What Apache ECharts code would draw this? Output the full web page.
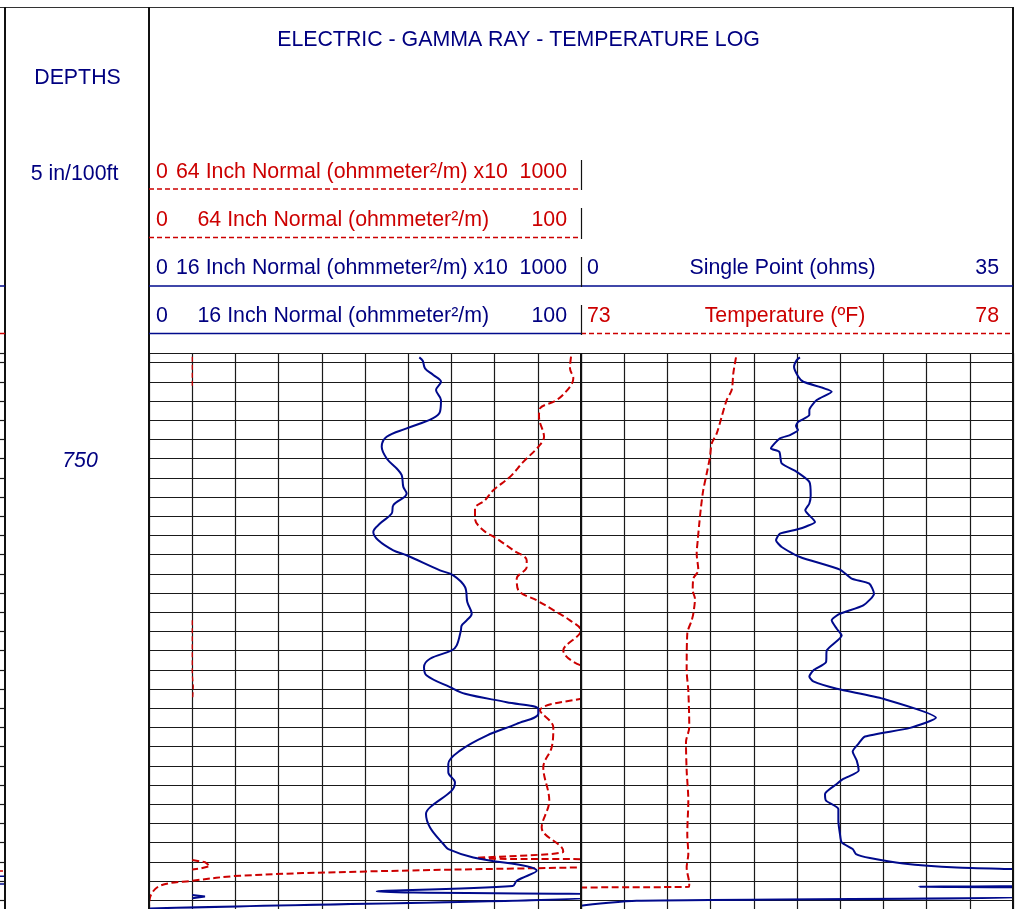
<!DOCTYPE html>
<html><head><meta charset="utf-8">
<script src="https://cdn.jsdelivr.net/npm/echarts@6/dist/echarts.min.js"></script>
<style>html,body{margin:0;padding:0;background:#fff}#chart{width:1018px;height:909px}</style>
</head><body><div id="chart"></div>
<script>
// ---------- depth scale (ft) ----------
const depthMin = 728, depthMax = 843.83;
const depthGridLines = [728,730,734,738,742,746,750,754,758,762,766,770,774,778,782,786,790,794,798,802,806,810,814,818,822,826,830,834,838,842];
const depthLabels = [{depth: 750, text: '750'}];

// ---------- 16 Inch Normal (ohm-m), scale 0-100 ----------
const n16Depth = [728.90,729.61,731.19,732.59,733.99,735.72,737.81,740.25,741.62,743.71,745.46,747.55,749.97,752.06,753.45,755.89,757.27,759.71,761.44,763.53,765.28,767.01,769.10,770.14,773.27,774.31,776.76,779.89,782.31,783.70,784.75,785.79,788.92,789.96,791.70,793.45,795.18,797.62,799.00,800.75,802.13,803.17,805.26,807.70,810.83,813.60,815.35,817.44,819.17,822.66,824.03,826.83,830.29,831.34,833.09,835.86,837.95,839.05,840.18,840.83,841.18,843.73,844.1];
const n16Value = [62.57,63.36,63.89,65.81,67.59,66.44,67.59,67.36,65.67,59.65,55.02,53.87,55.02,57.34,58.50,58.87,59.65,56.55,56.18,53.47,51.92,53.08,56.55,59.65,67.36,70.44,73.15,73.68,74.70,73.54,72.38,72.2,71.23,70.07,65.05,63.66,64.28,69.68,73.15,82.80,90.12,90.12,85.12,78.17,71.99,69.28,69.28,70.83,70.07,65.05,64.12,65.05,68.13,69.28,75.07,89.75,85.12,84.19,52.71,105,105,0.23,-0.5];

// ---------- 64 Inch Normal (ohm-m), scale 0-100 ----------
const n64Depth = [728.77,731.19,733.28,735.03,737.81,739.54,741.29,745.46,747.55,750.68,753.81,756.58,758.67,760.40,762.49,764.93,766.66,769.10,771.19,772.58,775.00,777.44,779.53,781.97,783.70,785.79,789.96,793.09,794.55,798.72,800.04,802.48,805.96,810.13,814.31,821.25,826.83,831.00,831.90,833.21,833.71,835.09,835.17,836.01,836.90,837.95,838.99,841.43,844];
const n64Value = [97.69,97.45,98.22,97.45,94.38,90.51,90.28,91.44,90.12,86.64,83.56,79.70,77.78,75.46,75.46,77.38,80.49,84.33,87.43,87.43,85.12,85.49,89.75,94.38,97.45,100.0,95.90,100,110,110,100,90.51,93.59,93.22,91.27,92.66,90.90,95.53,95.90,75.86,110,110,100,50.39,21.06,10.02,2.55,0.23,0];

// ---------- x10 backup traces (scale 0-1000), visible pieces ----------
const n64x10DepthA = [728.77,735.10];
const n64x10ValueA = [100.2,100.2];
const n64x10DepthB = [783.70,795.00,797.50,800.20];
const n64x10ValueB = [100.2,100.2,102.5,101.0];
const n64x10DepthC = [833.63,834.10,834.90,835.40,835.59];
const n64x10ValueC = [100.2,130,141.2,118,100.2];
const n16x10Depth = [840.90,841.25,841.60];
const n16x10Value = [100.2,129.6,100.2];

// ---------- Single Point (ohms), scale 0-35 ----------
const spDepth = [728.90,729.46,730.86,732.94,733.99,736.07,737.81,739.89,740.94,742.33,743.23,744.06,745.11,745.80,747.88,748.59,751.01,752.76,754.85,757.62,759.36,760.76,763.20,764.09,764.78,765.62,767.01,768.41,770.50,773.13,775.00,776.05,778.13,780.58,782.31,783.70,785.44,786.83,789.96,792.40,794.13,795.38,796.42,797.95,800.04,804.00,806.09,807.90,809.43,811.03,812.91,815.00,816.73,817.77,819.86,821.25,822.99,825.43,828.20,829.96,831.34,832.38,833.22,834.34,835.17,835.51,835.66,838.64,839.20,839.47,841.22,842.12,843.17,844];
const spValue = [17.74,17.48,17.26,17.61,18.01,20.31,19.10,18.50,18.50,17.61,17.42,17.58,16.93,16.12,15.39,16.07,16.26,17.48,18.50,18.61,18.50,18.17,18.96,18.29,17.48,16.12,15.80,16.26,17.74,20.98,21.93,23.36,23.74,22.87,20.98,20.31,20.72,21.12,19.91,19.85,18.82,18.50,18.82,20.72,24.49,28.76,26.66,23.01,22.47,22.01,22.34,22.50,21.25,20.72,19.77,19.85,20.85,20.85,20.98,21.12,22.01,22.28,23.41,26.11,30.44,35.03,37,37,27.38,37,37,4.51,0,-1];

// ---------- Temperature (F), scale 73-78 ----------
const tempDepth = [728.90,732.23,735.72,737.81,741.29,744.75,746.84,749.64,753.10,756.58,760.07,763.53,767.01,769.79,773.27,775.00,777.44,779.18,782.31,783.70,786.48,794.13,798.31,805.96,809.09,815.00,821.25,828.20,832.38,835.17,838.64,839.20,839.35];
const tempValue = [74.794,74.763,74.744,74.686,74.628,74.571,74.513,74.493,74.455,74.415,74.389,74.369,74.351,74.339,74.358,74.300,74.293,74.319,74.300,74.281,74.230,74.223,74.242,74.253,74.215,74.223,74.242,74.230,74.242,74.223,74.253,74.25,72.0];

// ---------- neighbouring track fragment (left edge) ----------
const edgeRedDepth = [835.9, 835.9];
const edgeBlueDepth = [837.0, 837.0];
const edgeBlue2Depth = [838.6, 838.6];
const edgeValue = [0, 1];

// ---------- scales / header texts ----------
const track1Scale = [0, 100];
const track1Scale10 = [0, 1000];
const spScale = [0, 35];
const tempScale = [73, 78];
const title = 'ELECTRIC - GAMMA RAY - TEMPERATURE LOG';
const headerRows = [
  {color: 'red',  left: '0', name: '64 Inch Normal (ohmmeter²/m) x10', right: '1000', indent: false},
  {color: 'red',  left: '0', name: '64 Inch Normal (ohmmeter²/m)', right: '100', indent: true},
  {color: 'blue', left: '0', name: '16 Inch Normal (ohmmeter²/m) x10', right: '1000', indent: false},
  {color: 'blue', left: '0', name: '16 Inch Normal (ohmmeter²/m)', right: '100', indent: true}
];
const track2Header = [
  {color: 'blue', left: '0', name: 'Single Point (ohms)', right: '35'},
  {color: 'red', left: '73', name: 'Temperature (ºF)', right: '78'}
];

// ---------- styling ----------
const BLUE = '#000a8c', RED = '#cc0000', INK = '#000080';
const FONT = 'Liberation Sans, Arial, Helvetica, sans-serif';
const FS = 21.33;
const pairs = (v, d) => v.map((x, i) => [x, d[i]]);

const chart = echarts.init(document.getElementById('chart'), null, {renderer: 'canvas'});

const yBase = {
  type: 'value', inverse: true, min: depthMin, max: depthMax,
  axisLine: {show: false}, axisLabel: {show: false},
  axisTick: {show: false, customValues: depthGridLines},
  splitLine: {show: true, lineStyle: {color: '#1a1a1a', width: 1.2}}
};
const xShown = (grid, range, interval) => ({
  type: 'value', gridIndex: grid, min: range[0], max: range[1], interval: interval,
  axisLine: {show: false}, axisTick: {show: false}, axisLabel: {show: false},
  splitLine: {show: true, lineStyle: {color: '#1a1a1a', width: 1.2}}
});
const xHidden = (grid, range) => ({type: 'value', gridIndex: grid, min: range[0], max: range[1], show: false});

const lineSeries = (name, xi, yi, data, color, width, dash, smooth) => ({
  name, type: 'line', xAxisIndex: xi, yAxisIndex: yi, data,
  showSymbol: false, symbol: 'none', animation: false, clip: true, z: 5,
  smooth: smooth || false,
  lineStyle: {color, width, type: dash ? dash : 'solid'}
});

// ---------- graphic frame & header ----------
const g = [];
const L = (x1, y1, x2, y2, stroke, w, dash) => g.push({type: 'line', silent: true, z: 100,
  shape: {x1, y1, x2, y2}, style: {stroke, lineWidth: w, lineDash: dash || null}});
const T = (x, y, text, fill, align, font) => g.push({type: 'text', silent: true, z: 100, x, y,
  style: {text, fill, font: font || (FS + 'px ' + FONT), align, verticalAlign: 'middle', textAlign: align, textVerticalAlign: 'middle'}});

// outer frame
L(0, 7.5, 1014, 7.5, '#333', 1);
L(5, 7, 5, 909, '#111', 2);
L(149, 7, 149, 909, '#111', 2);
L(1013, 7, 1013, 909, '#111', 2);
L(581, 353, 581, 909, '#111', 2);
// header separator lines
const DASH = [5, 3];
L(149, 189, 581, 189, RED, 1.5, DASH);
L(149, 237.5, 581, 237.5, RED, 1.5, DASH);
L(149, 286, 1013, 286, BLUE, 1.5);
L(149, 333.5, 581, 333.5, BLUE, 1.5);
L(581, 333.5, 1013, 333.5, RED, 1.5, DASH);
L(0, 286, 5, 286, BLUE, 1.5);
L(0, 333.5, 5, 333.5, RED, 1.5, DASH);
// header row ticks
[[160, 190], [208, 239], [257, 287], [305, 335]].forEach(r => L(581.5, r[0], 581.5, r[1], '#111', 1.2));
// texts
const DY = 1.5;
T(518.5, 39 + DY, title, INK, 'center');
T(77.5, 77 + DY, 'DEPTHS', INK, 'center');
T(74.5, 173 + DY, '5 in/100ft', INK, 'center');
const rowY = [171, 219, 267, 315];
headerRows.forEach((r, i) => {
  const c = r.color === 'red' ? RED : INK;
  T(156, rowY[i] + DY, r.left, c, 'left');
  T(r.indent ? 197.5 : 176, rowY[i] + DY, r.name, c, 'left');
  T(567, rowY[i] + DY, r.right, c, 'right');
});
track2Header.forEach((r, i) => {
  const c = r.color === 'red' ? RED : INK;
  const y = rowY[2 + i] + DY;
  T(587, y, r.left, c, 'left');
  T(i === 0 ? 782.5 : 785, y, r.name, c, 'center');
  T(999, y, r.right, c, 'right');
});

const option = {
  backgroundColor: '#fff',
  animation: false,
  grid: [
    {left: 0, width: 5, top: 353, bottom: 0, show: false},
    {left: 149, width: 432, top: 353, bottom: 0, show: false},
    {left: 581, width: 432, top: 353, bottom: 0, show: false}
  ],
  xAxis: [
    xShown(1, track1Scale, 10),
    xHidden(1, track1Scale10),
    xShown(2, spScale, 3.5),
    xHidden(2, tempScale),
    xHidden(0, [0, 1])
  ],
  yAxis: [
    Object.assign({gridIndex: 0}, yBase),
    Object.assign({gridIndex: 1}, yBase),
    Object.assign({gridIndex: 2}, yBase)
  ],
  series: [
    lineSeries('64 Inch Normal', 0, 1, pairs(n64Value, n64Depth), RED, 2, [7, 3.5], 0.35),
    lineSeries('64 Inch Normal x10 a', 1, 1, pairs(n64x10ValueA, n64x10DepthA), RED, 1.3, [5, 3]),
    lineSeries('64 Inch Normal x10 b', 1, 1, pairs(n64x10ValueB, n64x10DepthB), RED, 1.3, [5, 3]),
    lineSeries('64 Inch Normal x10 c', 1, 1, pairs(n64x10ValueC, n64x10DepthC), RED, 2, [7, 3.5]),
    lineSeries('16 Inch Normal', 0, 1, pairs(n16Value, n16Depth), BLUE, 2, null, 0.35),
    lineSeries('16 Inch Normal x10', 1, 1, pairs(n16x10Value, n16x10Depth), BLUE, 2),
    lineSeries('Temperature', 3, 2, pairs(tempValue, tempDepth), RED, 2, [7, 3.5], 0.3),
    lineSeries('Single Point', 2, 2, pairs(spValue, spDepth), BLUE, 2, null, 0.2),
    lineSeries('edge red', 4, 0, pairs(edgeValue, edgeRedDepth), RED, 1.5, [3, 2]),
    lineSeries('edge blue', 4, 0, pairs(edgeValue, edgeBlueDepth), BLUE, 1.5),
    lineSeries('edge blue 2', 4, 0, pairs(edgeValue, edgeBlue2Depth), BLUE, 1.5)
  ],
  graphic: {elements: g}
};
chart.setOption(option);

// depth label drawn from the depth axis
depthLabels.forEach(d => {
  const p = chart.convertToPixel({gridIndex: 1}, [0, d.depth]);
  g.push({type: 'text', silent: true, z: 100, x: 80, y: p[1] + 2,
    style: {text: d.text, fill: INK, font: 'italic ' + FS + 'px ' + FONT, align: 'center', verticalAlign: 'middle', textAlign: 'center', textVerticalAlign: 'middle'}});
});
chart.setOption({graphic: {elements: g}});
</script>
</body></html>
